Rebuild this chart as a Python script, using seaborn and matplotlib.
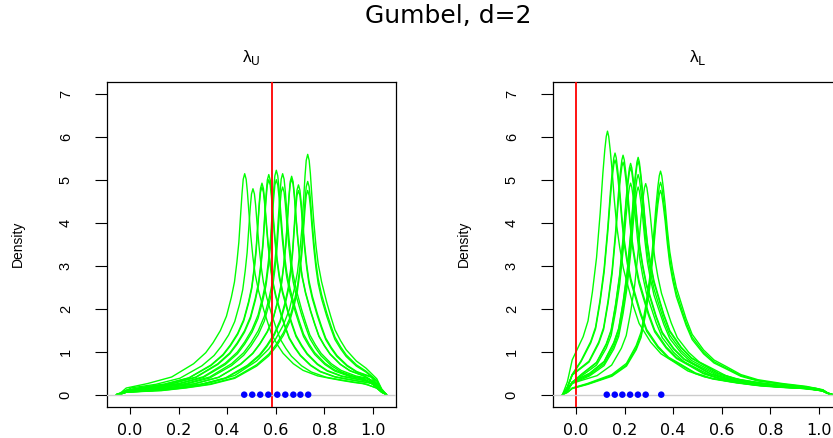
import numpy as np
import pandas as pd
import matplotlib
matplotlib.use("Agg")
import matplotlib.pyplot as plt
import seaborn as sns

# ---------------- data ----------------
main_title = "Gumbel, d=2"
panel_titles = [r"λ$_\mathrm{U}$", r"λ$_\mathrm{L}$"]
true_values = [0.5858, 0.0]
x_ticks = [0.0, 0.2, 0.4, 0.6, 0.8, 1.0]
y_ticks = [0, 1, 2, 3, 4, 5, 6, 7]

# peak location / peak height of each green density curve
upper_centers = [0.472, 0.506, 0.543, 0.543, 0.571, 0.571, 0.602, 0.602, 0.628,
                 0.628, 0.665, 0.665, 0.693, 0.693, 0.731, 0.731, 0.731]
upper_heights = [5.14, 4.79, 4.92, 4.83, 5.12, 5.00, 5.22, 5.00, 5.14,
                 4.83, 5.08, 5.02, 4.88, 4.75, 5.59, 4.96, 4.75]
upper_dots = [0.470, 0.503, 0.536, 0.569, 0.606, 0.639, 0.672, 0.701, 0.733]

lower_centers = [0.130, 0.161, 0.161, 0.194, 0.194, 0.225, 0.225, 0.225, 0.256,
                 0.256, 0.256, 0.256, 0.287, 0.348, 0.348, 0.348]
lower_heights = [6.13, 5.62, 5.46, 5.57, 5.41, 5.38, 5.28, 4.92, 5.52,
                 5.43, 5.12, 4.83, 4.91, 5.20, 4.94, 4.75]
lower_dots = [0.127, 0.160, 0.191, 0.223, 0.255, 0.287, 0.351]

# shape of one curve: offset from peak, fraction of peak height
upper_profile_dx = [-0.60, -0.50, -0.40, -0.30, -0.21, -0.16, -0.13, -0.10, -0.075,
                    -0.055, -0.042, -0.032, -0.024, -0.017, -0.011, -0.006, 0.0,
                    0.006, 0.011, 0.017, 0.025, 0.034, 0.043, 0.057, 0.078, 0.095,
                    0.112, 0.135, 0.158, 0.20, 0.24, 0.30, 0.35, 0.40, 0.45, 0.50,
                    0.55, 0.60]
upper_profile_frac = [0.020, 0.033, 0.050, 0.080, 0.140, 0.190, 0.235, 0.290, 0.355,
                      0.440, 0.510, 0.600, 0.690, 0.810, 0.910, 0.975, 1.000,
                      0.975, 0.920, 0.830, 0.720, 0.620, 0.545, 0.470, 0.385, 0.325,
                      0.270, 0.225, 0.187, 0.140, 0.110, 0.085, 0.074, 0.064, 0.055,
                      0.048, 0.042, 0.038]

lower_profile_dx = [-0.30, -0.20, -0.14, -0.10, -0.08, -0.062, -0.045, -0.030, -0.019,
                    -0.011, -0.005, 0.0, 0.005, 0.011, 0.019, 0.028, 0.038, 0.050,
                    0.065, 0.082, 0.105, 0.13, 0.177, 0.22, 0.27, 0.33, 0.40, 0.50,
                    0.60, 0.70, 0.80, 0.90]
lower_profile_frac = [0.050, 0.090, 0.140, 0.220, 0.280, 0.390, 0.520, 0.690, 0.840,
                      0.930, 0.980, 1.000, 0.980, 0.930, 0.850, 0.740, 0.640, 0.560,
                      0.480, 0.420, 0.340, 0.270, 0.200, 0.155, 0.126, 0.090, 0.067,
                      0.050, 0.037, 0.030, 0.025, 0.020]

# how the curves fall to zero just outside [0, 1]
edge_offsets = [0.015, 0.035, 0.055]
edge_fracs = [0.60, 0.22, 0.0]


def curve_frame(centers, heights, dx, frac, lo=0.0, hi=1.0):
    parts = []
    dx = np.asarray(dx)
    frac = np.asarray(frac)
    for i, (c, h) in enumerate(zip(centers, heights)):
        xs = c + dx
        ys = h * frac
        keep = (xs >= lo) & (xs <= hi)
        xs, ys = xs[keep], ys[keep]
        lx = [lo - o for o in edge_offsets[::-1]]
        ly = [ys[0] * f for f in edge_fracs[::-1]]
        rx = [hi + o for o in edge_offsets]
        ry = [ys[-1] * f for f in edge_fracs]
        parts.append(pd.DataFrame({"x": np.concatenate([lx, xs, rx]),
                                   "density": np.concatenate([ly, ys, ry]),
                                   "curve": i}))
    return pd.concat(parts, ignore_index=True)


panels = [
    (curve_frame(upper_centers, upper_heights, upper_profile_dx, upper_profile_frac), upper_dots),
    (curve_frame(lower_centers, lower_heights, lower_profile_dx, lower_profile_frac), lower_dots),
]

# ---------------- drawing ----------------
sns.set_theme(style="white")
plt.rcParams["font.family"] = ["Liberation Sans", "DejaVu Sans"]
plt.rcParams["mathtext.fontset"] = "dejavusans"
plt.rcParams["text.color"] = "black"
plt.rcParams["axes.labelcolor"] = "black"

W, H = 833, 438
fig = plt.figure(figsize=(W / 100, H / 100), dpi=100)
fig.patch.set_facecolor("white")

ax_w = 289 / W
ax_h = (406.7 - 81.7) / H
ax_b = (H - 406.7) / H
lefts = [107 / W, 553 / W]

for k, ((df, dots), left) in enumerate(zip(panels, lefts)):
    ax = fig.add_axes([left, ax_b, ax_w, ax_h])
    ax.set_facecolor("white")
    sns.lineplot(data=df, x="x", y="density", units="curve", estimator=None,
                 sort=False, color="#00ff00", linewidth=1.0, ax=ax, legend=False)
    ax.axvline(true_values[k], color="#ff0000", linewidth=1.3, zorder=3)
    ax.axhline(0, color="#cccccc", linewidth=1.0, zorder=3)
    sns.scatterplot(x=dots, y=[0] * len(dots), color="#0000ff", s=22,
                    edgecolor="none", ax=ax, zorder=5, legend=False)

    ax.set_xlim(-0.094, 1.094)
    ax.set_ylim(-0.28, 7.28)
    ax.set_xticks(x_ticks)
    ax.set_xticklabels([f"{t:.1f}" for t in x_ticks], fontsize=11.5,
                       family=["DejaVu Sans"])
    ax.set_yticks(y_ticks)
    ax.set_yticklabels([str(t) for t in y_ticks], fontsize=10.5, rotation=90,
                       va="center")
    ax.tick_params(axis="x", length=5, width=0.8, pad=7, color="black",
                   bottom=True, labelcolor="black")
    ax.tick_params(axis="y", length=8.6, width=0.8, pad=16, color="black",
                   left=True, labelcolor="black")
    for sp in ax.spines.values():
        sp.set_visible(True)
        sp.set_color("black")
        sp.set_linewidth(0.9)
    ax.set_xlabel("")
    ax.set_ylabel("Density", fontsize=10,
                  family=["Liberation Sans Narrow", "Liberation Sans"])
    ax.yaxis.set_label_coords(-0.285, 0.5)
    ax.set_title(panel_titles[k], fontsize=12.5, pad=14, color="black")

fig.text(448 / W, 1 - 16 / H, main_title, ha="center", va="center",
         fontsize=18, family=["DejaVu Sans"], color="black")

fig.savefig("out.png", dpi=100, facecolor="white")
